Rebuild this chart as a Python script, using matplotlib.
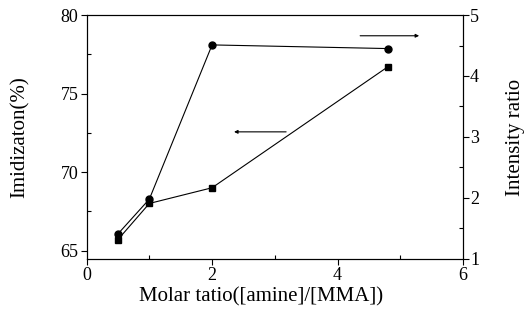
import matplotlib
matplotlib.use('Agg')
import matplotlib.pyplot as plt
from matplotlib.ticker import MultipleLocator

# Data
ratio = [0.5, 1.0, 2.0, 4.8]
imidization = [65.7, 68.0, 69.0, 76.7]      # squares, left axis
intensity = [1.41, 1.98, 4.51, 4.45]        # circles, right axis

plt.rcParams['font.family'] = ['Liberation Serif', 'DejaVu Serif']

fig, ax = plt.subplots(figsize=(5.28, 3.2), dpi=100)
fig.subplots_adjust(left=0.164, right=0.877, bottom=0.191, top=0.953)
ax2 = ax.twinx()

# Imidization vs molar ratio (squares)
ax.plot(ratio, imidization, color='black', lw=0.8, marker='s', ms=4.5,
        markeredgecolor='black', markerfacecolor='black')
# Intensity ratio (circles)
ax2.plot(ratio, intensity, color='black', lw=0.8, marker='o', ms=5,
         markeredgecolor='black', markerfacecolor='black')

ax.set_xlim(0, 6)
ax.set_ylim(64.47, 80)
ax2.set_ylim(1, 5)

ax.xaxis.set_major_locator(MultipleLocator(2))
ax.xaxis.set_minor_locator(MultipleLocator(1))
ax.yaxis.set_major_locator(MultipleLocator(5))
ax.yaxis.set_minor_locator(MultipleLocator(2.5))
ax2.yaxis.set_major_locator(MultipleLocator(1))
ax2.yaxis.set_minor_locator(MultipleLocator(0.5))

ax.tick_params(which='major', direction='out', length=4, width=0.8,
               labelsize=13, pad=2)
ax.tick_params(which='minor', direction='in', length=3, width=0.8)
ax2.tick_params(which='major', direction='out', length=4, width=0.8,
                labelsize=13, pad=1)
ax2.tick_params(which='minor', direction='in', length=3, width=0.8)

for a in (ax, ax2):
    for s in a.spines.values():
        s.set_linewidth(0.8)

ax.set_xlabel('Molar tatio([amine]/[MMA])', fontsize=15)
ax.xaxis.set_label_coords(0.4645, -0.115)
ax.set_ylabel('Imidizaton(%)', fontsize=15)
ax.yaxis.set_label_coords(-0.15, 0.5)
ax2.set_ylabel('Intensity ratio', fontsize=15)
ax2.yaxis.set_label_coords(1.115, 0.5)

# Arrows showing which axis each curve belongs to
arrow = dict(arrowstyle='-|>', lw=0.8, color='black', mutation_scale=5,
             shrinkA=0, shrinkB=0)
ax2.annotate('', xy=(5.30, 4.66), xytext=(4.36, 4.66), arrowprops=arrow)
ax.annotate('', xy=(2.35, 72.56), xytext=(3.18, 72.56), arrowprops=arrow)

fig.savefig('out.png', dpi=100)
